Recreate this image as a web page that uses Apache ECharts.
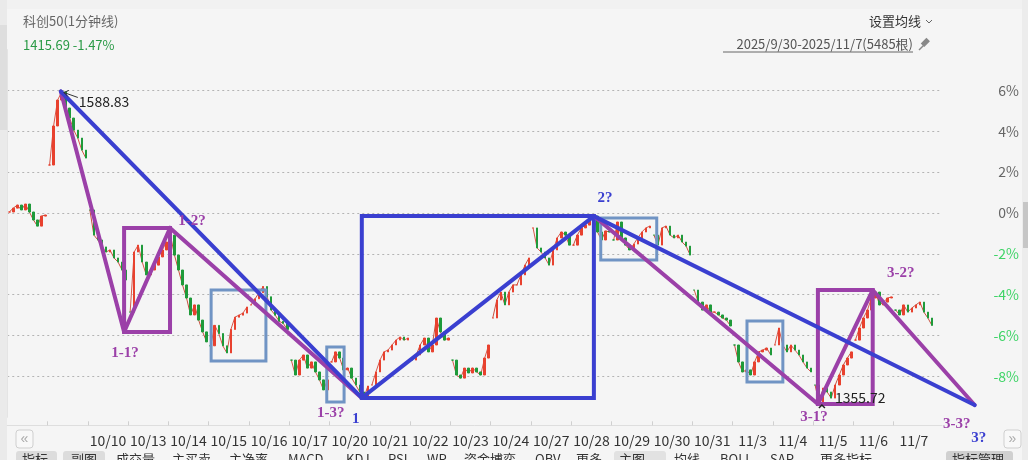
<!DOCTYPE html>
<html><head><meta charset="utf-8">
<script src="https://cdn.jsdelivr.net/npm/echarts@6/dist/echarts.min.js"></script>
<style>html,body{margin:0;padding:0;background:#f5f5f5}#c{width:1028px;height:460px}</style>
</head><body><div id="c"></div>
<script>
// ---------------- DATA ----------------
const dayLabels = ['9/30','10/9','10/10','10/13','10/14','10/15','10/16','10/17','10/20','10/21','10/22','10/23','10/24','10/27','10/28','10/29','10/30','10/31','11/3','11/4','11/5','11/6','11/7'];
const yTickValues = [-8,-6,-4,-2,0,2,4,6];
// percentage change vs. base, sampled 10 times per trading day
const d0930 = [0.05,0.24,0.39,0.15,0.44,0.05,-0.34,-0.64,-0.15,-0.10];
const d1009 = [2.35,4.26,5.53,5.92,5.14,4.65,4.06,3.67,3.08,2.69];
const d1010 = [0.15,-1.08,-1.32,-1.66,-1.91,-1.81,-2.20,-2.40,-2.79,-3.28];
const d1013 = [-4.85,-1.91,-1.57,-2.40,-3.03,-2.79,-2.55,-2.15,-1.81,-1.42];
const d1014 = [-1.08,-2.06,-2.79,-3.52,-4.16,-4.99,-4.50,-5.24,-5.82,-6.31];
const d1015 = [-6.50,-5.50,-5.90,-6.50,-6.85,-5.70,-5.10,-5.00,-4.90,-4.60];
const d1016 = [-4.50,-4.20,-3.90,-3.60,-4.10,-4.75,-5.00,-5.30,-5.40,-5.70];
const d1017 = [-7.20,-7.93,-7.20,-6.95,-7.59,-7.29,-7.78,-8.17,-8.66,-8.17];
const d1020 = [-7.29,-6.80,-7.10,-7.68,-7.59,-8.08,-8.42,-8.76,-9.06,-8.47];
const d1021 = [-8.42,-7.78,-7.20,-6.80,-6.71,-6.46,-6.22,-6.07,-6.22,-6.12];
const d1022 = [-7.20,-6.95,-6.46,-6.12,-6.80,-6.46,-5.14,-5.82,-6.22,-6.12];
const d1023 = [-7.20,-7.93,-8.08,-7.59,-7.83,-7.59,-7.78,-7.93,-7.10,-6.46];
const d1024 = [-5.14,-4.26,-3.87,-4.50,-3.87,-3.52,-3.52,-3.03,-2.55,-2.20];
const d1027 = [-0.73,-1.71,-1.91,-2.20,-2.55,-1.81,-1.22,-0.93,-1.08,-1.57];
const d1028 = [-1.57,-1.08,-0.73,-0.59,-0.34,-0.15,-0.93,-1.32,-0.88,-0.93];
const d1029 = [-1.32,-0.44,-1.22,-1.57,-1.81,-1.52,-1.22,-0.93,-0.73,-0.64];
const d1030 = [-1.08,-1.57,-0.73,-0.64,-1.08,-1.22,-1.08,-1.42,-1.62,-2.06];
const d1031 = [-3.77,-4.36,-4.75,-4.50,-4.85,-4.85,-4.99,-5.14,-5.24,-5.53];
const d1103 = [-6.46,-7.29,-7.78,-7.68,-7.93,-7.29,-6.80,-6.71,-6.61,-6.95];
const d1104 = [-6.46,-5.63,-6.46,-6.80,-6.46,-6.71,-6.95,-7.29,-7.59,-7.78];
const d1105 = [-8.42,-9.30,-8.57,-8.76,-9.06,-8.42,-7.93,-7.44,-7.10,-6.80];
const d1106 = [-6.22,-5.63,-5.14,-4.75,-4.16,-3.87,-4.50,-4.36,-4.16,-4.11];
const d1107 = [-4.75,-4.99,-4.50,-4.85,-4.65,-4.50,-4.36,-4.85,-5.14,-5.50];
const allDays = [d0930,d1009,d1010,d1013,d1014,d1015,d1016,d1017,d1020,d1021,d1022,d1023,d1024,d1027,d1028,d1029,d1030,d1031,d1103,d1104,d1105,d1106,d1107];

// wave pivots: x in trading-day units, y in %
const pivotNames = ['peak','1-1','1-2','1','2','3-1','3-2','3-3'];
const pivotX = [1.33, 2.90, 4.04, 8.80, 14.56, 20.12, 21.48, 24.01];
const pivotY = [5.95, -5.82, -0.73, -9.05, -0.15, -9.35, -3.77, -9.40];
const blueSegments = [[0,3],[3,4],[4,7]];
const purpleSegments = [[0,1],[1,2],[2,3],[4,5],[5,6],[6,7]];
const blueRects = [[3,4]];
const purpleRects = [[1,2],[5,6]];
// consolidation boxes
const boxX0 = [5.06, 7.93, 14.73, 18.36];
const boxX1 = [6.42, 8.36, 16.12, 19.25];
const boxY0 = [-3.77, -6.56, -0.24, -5.29];
const boxY1 = [-7.24, -9.25, -2.30, -8.27];
const waveLabelText = ['1-1?','1-2?','1-3?','1','2?','3-1?','3-2?','3-3?','3?'];
const waveLabelPivot = [1,2,3,3,4,5,6,7,7];
const priceLabelText = ['1588.83','1355.72'];
const priceLabelPivot = [0,5];

// ---------------- STYLE ----------------
const BLUE='#3a3fd0', PURPLE='#9b40a8', STEEL='#7094c4';
const waveLabelStyle = [
 {dx:1,dy:21,c:PURPLE},{dx:22,dy:-7,c:PURPLE},{dx:-31,dy:15,c:PURPLE},{dx:-6,dy:21,c:BLUE},
 {dx:11,dy:-18,c:BLUE},{dx:-4,dy:13,c:PURPLE},{dx:28,dy:-17,c:PURPLE},{dx:-18,dy:19,c:PURPLE},{dx:4,dy:33,c:BLUE}];
const priceLabelStyle = [{dx:18,dy:10,arrow:true},{dx:17,dy:-6,arrow:false}];
const FONT = "'Noto Sans CJK SC','Noto Sans',sans-serif";
const UP='#e8412e', DOWN='#1f9a3a';

// ---------------- BUILD ----------------
const cats = [], candles = [];
allDays.forEach((arr,k)=>arr.forEach((v,i)=>{
  const o = i===0 ? v : arr[i-1];
  candles.push([o, v, Math.min(o,v), Math.max(o,v)]);
  cats.push(dayLabels[k]+'-'+i);
}));
cats.push('pad1','pad2');
const XMAX = cats.length/10;

// one thin line per trading day (broken between days)
const dayLineSeries = allDays.map((arr,k)=>{
  const data = new Array(cats.length).fill(null);
  let off = 0; for(let j=0;j<k;j++) off += allDays[j].length;
  arr.forEach((v,i)=>{ data[off+i]=v; });
  return {type:'line',xAxisIndex:0,yAxisIndex:0,data,showSymbol:false,silent:true,connectNulls:false,z:2,
    lineStyle:{color:k%2?'#d8574a':'#c9503f',width:1}};
});

const segData = (list)=>list.map(([a,b])=>[pivotX[a],pivotY[a],pivotX[b],pivotY[b]]);
const lineSeries = (list,color,w)=>({
  type:'custom', xAxisIndex:1, yAxisIndex:0, clip:false, silent:true, z:5,
  encode:{x:[0,2],y:[1,3]},
  data:segData(list),
  renderItem:(p,api)=>{
    const a=api.coord([api.value(0),api.value(1)]), b=api.coord([api.value(2),api.value(3)]);
    return {type:'line',shape:{x1:a[0],y1:a[1],x2:b[0],y2:b[1]},style:{stroke:color,lineWidth:w,lineCap:'round'}};
  }
});
const rectSeries = (data,color,w)=>({
  type:'custom', xAxisIndex:1, yAxisIndex:0, clip:false, silent:true, z:5,
  encode:{x:[0,2],y:[1,3]},
  data,
  renderItem:(p,api)=>{
    const a=api.coord([api.value(0),api.value(1)]), b=api.coord([api.value(2),api.value(3)]);
    return {type:'rect',shape:{x:Math.min(a[0],b[0]),y:Math.min(a[1],b[1]),width:Math.abs(b[0]-a[0]),height:Math.abs(b[1]-a[1])},
      style:{fill:null,stroke:color,lineWidth:w}};
  }
});
const boxData = boxX0.map((x,i)=>[x,boxY0[i],boxX1[i],boxY1[i]]);

const option = {
  backgroundColor:'#f5f5f5',
  animation:false,
  textStyle:{fontFamily:FONT},
  grid:{left:7.25,right:86,top:49.6,bottom:42.7,containLabel:false},
  xAxis:[
    {type:'category',data:cats,boundaryGap:true,show:false},
    {type:'value',min:0,max:XMAX,position:'bottom',offset:8,
     axisLine:{show:true,lineStyle:{color:'#dedede'}},
     axisTick:{show:true,inside:true,length:4,lineStyle:{color:'#d0d0d0'},customValues:dayLabels.map((d,k)=>k).filter(k=>k>=1)},
     axisLabel:{color:'#333',fontSize:14,margin:8,customValues:dayLabels.map((d,k)=>k+0.5).filter(v=>v>2),
       formatter:(v)=>dayLabels[Math.floor(v)]},
     splitLine:{show:false}}
  ],
  yAxis:[{type:'value',position:'right',min:-10,max:8,interval:2,
    axisLine:{show:true,lineStyle:{color:'#e4e4e4'}},axisTick:{show:false},
    splitLine:{show:true,showMinLine:false,showMaxLine:false,lineStyle:{type:[2,3],color:'#b4b4b4',width:1}},
    axisLabel:{showMinLabel:false,showMaxLabel:false,align:'right',margin:77,fontSize:14,
      formatter:(v)=>v+'%',color:(v)=>parseFloat(v)<0?'#3fd467':'#666'}}],
  series:[
    ...dayLineSeries,
    {type:'candlestick',xAxisIndex:0,yAxisIndex:0,data:candles,barWidth:2,silent:true,z:3,
     itemStyle:{color:UP,color0:DOWN,borderColor:UP,borderColor0:DOWN,borderWidth:1}},
    rectSeries(boxData,STEEL,3),
    rectSeries(segData(purpleRects),PURPLE,4),
    rectSeries(segData(blueRects),BLUE,4),
    lineSeries(purpleSegments,PURPLE,4),
    lineSeries(blueSegments,BLUE,4),
    {type:'custom',xAxisIndex:1,yAxisIndex:0,clip:false,silent:true,z:6,
     encode:{x:0,y:1},
     data:waveLabelPivot.map(p=>[pivotX[p],pivotY[p]]),
     renderItem:(p,api)=>{
       const a=api.coord([api.value(0),api.value(1)]); const s=waveLabelStyle[p.dataIndex];
       return {type:'text',x:a[0]+s.dx,y:a[1]+s.dy,style:{text:waveLabelText[p.dataIndex],fill:s.c,
         fontFamily:"'Liberation Serif','DejaVu Serif',serif",fontWeight:'bold',fontSize:15,align:'center',verticalAlign:'middle'}};
     }},
    {type:'custom',xAxisIndex:1,yAxisIndex:0,clip:false,silent:true,z:7,
     encode:{x:0,y:1},
     data:priceLabelPivot.map(p=>[pivotX[p],pivotY[p]]),
     renderItem:(p,api)=>{
       const a=api.coord([api.value(0),api.value(1)]); const s=priceLabelStyle[p.dataIndex];
       const ch=[{type:'text',x:a[0]+s.dx,y:a[1]+s.dy,style:{text:priceLabelText[p.dataIndex],fill:'#222',
         fontFamily:FONT,fontSize:14,align:'left',verticalAlign:'middle'}}];
       if(s.arrow){
         ch.push({type:'polyline',shape:{points:[[a[0]+17,a[1]+6],[a[0]+3,a[1]+1]]},style:{stroke:'#333',lineWidth:1}});
         ch.push({type:'polyline',shape:{points:[[a[0]+8,a[1]-1],[a[0]+3,a[1]+1],[a[0]+7,a[1]+5]]},style:{stroke:'#333',lineWidth:1,fill:null}});
       } else {
         ch.push({type:'polyline',shape:{points:[[a[0]+1,a[1]+4],[a[0]+4,a[1]+1],[a[0]+7,a[1]+4]]},style:{stroke:'#222',lineWidth:1.5,fill:null}});
       }
       return {type:'group',children:ch};
     }}
  ],
  graphic:[
    {type:'rect',shape:{x:0,y:0,width:1028,height:9},style:{fill:'#f1f1f1'},z:-1},
    {type:'rect',shape:{x:0,y:0,width:7,height:460},style:{fill:'#eaeaea'}},
    {type:'rect',shape:{x:0,y:25,width:7,height:105},style:{fill:'#dedede'}},
    {type:'rect',shape:{x:1022,y:0,width:6,height:460},style:{fill:'#ececec'}},
    {type:'rect',shape:{x:1023,y:202,width:5,height:46},style:{fill:'#c6c6c6'}},
    {type:'text',x:23,y:21,style:{text:'科创50(1分钟线)',fill:'#666',fontSize:13,fontFamily:FONT,verticalAlign:'middle'}},
    {type:'text',x:23,y:45,style:{text:'1415.69 -1.47%',fill:'#2a9a46',fontSize:13,fontFamily:FONT,verticalAlign:'middle'}},
    {type:'text',x:921,y:21,style:{text:'设置均线',fill:'#333',fontSize:13,fontFamily:FONT,align:'right',verticalAlign:'middle'}},
    {type:'polyline',shape:{points:[[926,20],[929,23],[932,20]]},style:{stroke:'#666',lineWidth:1,fill:null}},
    {type:'text',x:913,y:44,style:{text:'2025/9/30-2025/11/7(5485根)',fill:'#555',fontSize:13,fontFamily:FONT,align:'right',verticalAlign:'middle'}},
    {type:'line',shape:{x1:723,y1:52,x2:913,y2:52},style:{stroke:'#666',lineWidth:1}},
    {type:'polyline',shape:{points:[[919,50],[924,45]]},style:{stroke:'#888',lineWidth:1.5}},
    {type:'rect',shape:{x:923,y:38,width:5,height:8},rotation:-Math.PI/4,originX:925,originY:42,style:{fill:'#888'}},
    {type:'rect',shape:{x:16,y:430,width:17,height:18,r:3},style:{fill:'#f8f8f8',stroke:'#cfcfcf',lineWidth:1}},
    {type:'text',x:24.5,y:439,style:{text:'«',fill:'#aaa',fontSize:14,align:'center',verticalAlign:'middle'}},
    {type:'rect',shape:{x:1004,y:430,width:17,height:18,r:3},style:{fill:'#f8f8f8',stroke:'#cfcfcf',lineWidth:1}},
    {type:'text',x:1012.5,y:439,style:{text:'»',fill:'#aaa',fontSize:14,align:'center',verticalAlign:'middle'}},
    {type:'rect',shape:{x:16,y:451,width:41,height:20,r:3},style:{fill:'#dcdcdc'}},
    {type:'rect',shape:{x:63,y:451,width:42,height:20,r:3},style:{fill:'#dcdcdc'}},
    {type:'rect',shape:{x:614,y:451,width:52,height:20,r:3},style:{fill:'#e2e2e2'}},
    {type:'rect',shape:{x:946,y:451,width:67,height:20,r:3},style:{fill:'#d0d0d0'}},
    ...[['指标',22],['副图',71],['成交量',116],['主买卖',172],['主净率',229],['MACD',288],['KDJ',346],['RSI',388],['WR',427],['资金博弈',464],['OBV',535],['更多',576],['主图',619],['均线',674],['BOLL',720],['SAR',770],['更多指标',820],['指标管理',952]]
      .map(([t,x])=>({type:'text',x:x,y:453,style:{text:t,fill:'#333',fontSize:13,fontFamily:FONT,verticalAlign:'top'}}))
  ]
};
const chart = echarts.init(document.getElementById('c'));
chart.setOption(option);
</script></body></html>
